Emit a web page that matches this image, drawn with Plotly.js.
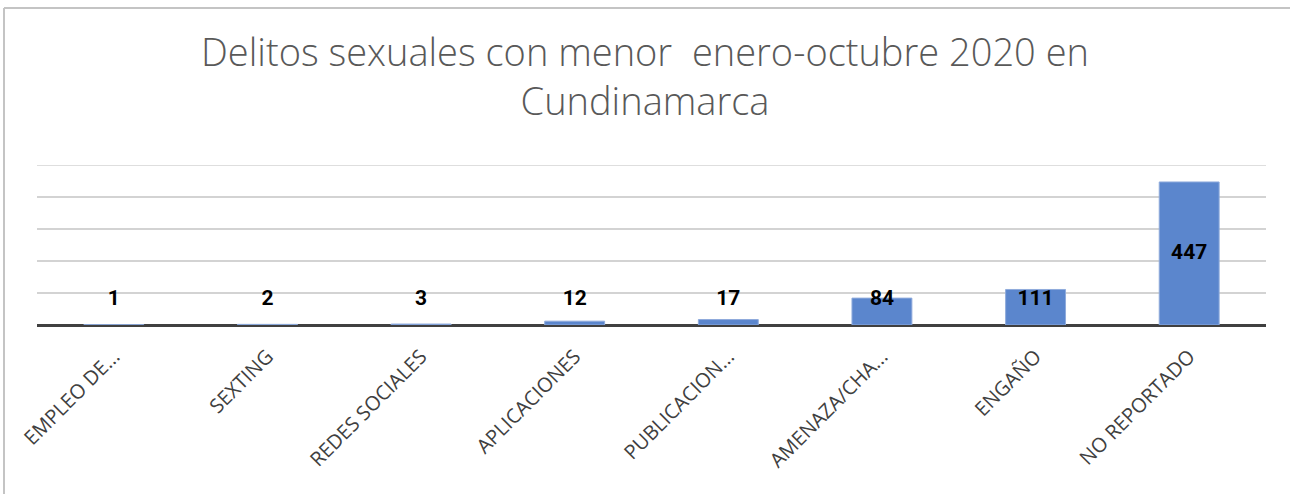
<!DOCTYPE html>
<html>
<head>
<meta charset="utf-8">
<script src="https://cdn.plot.ly/plotly-3.0.1.min.js"></script>
<style>html,body{margin:0;padding:0;background:#fff;}#chart{width:1290px;height:494px;}</style>
</head>
<body>
<div id="chart"></div>
<script>
const categories = ["EMPLEO DE...", "SEXTING", "REDES SOCIALES", "APLICACIONES", "PUBLICACION...", "AMENAZA/CHA...", "ENGAÑO", "NO REPORTADO"];
const values = [1, 2, 3, 12, 17, 84, 111, 447];
const labelText = values.map(String);
const minLabelY = 78;
const labelY = values.map(v => Math.max(v / 2, minLabelY));
const yMax = 500;

const W = 1290, H = 494;
const mL = 37, mR = 24, mT = 165, mB = 169;
const pw = W - mL - mR, ph = H - mT - mB;
const px = x => (x - mL) / pw;
const py = y => (H - mB - y) / ph;

const traces = [
  {
    type: 'bar', x: categories, y: values,
    marker: {color: '#5b86cd', line: {color: '#8fabdc', width: 1}},
    width: 0.39, hoverinfo: 'skip', showlegend: false
  },
  {
    type: 'scatter', mode: 'text', x: categories, y: labelY, text: labelText,
    textposition: 'middle center',
    textfont: {family: 'Roboto, sans-serif', size: 21, color: '#000', weight: 700},
    hoverinfo: 'skip', showlegend: false, cliponaxis: false
  }
];

const layout = {
  width: W, height: H,
  margin: {l: mL, r: mR, t: mT, b: mB, pad: 0},
  paper_bgcolor: '#fff', plot_bgcolor: '#fff',
  title: {
    text: 'Delitos sexuales con menor  enero-octubre 2020 en<br>Cundinamarca',
    font: {family: 'Open Sans, sans-serif', size: 38, color: '#595959', weight: 300},
    x: 0.5, xanchor: 'center', xref: 'container',
    y: 1 - 66 / H, yanchor: 'top', yref: 'container'
  },
  xaxis: {
    type: 'category', tickangle: -45,
    tickfont: {family: 'Open Sans, sans-serif', size: 20, color: '#404040'},
    ticklabelstandoff: 15, ticklabelshift: 0,
    showline: false, ticks: '', showgrid: false, zeroline: false,
    fixedrange: true
  },
  yaxis: {
    range: [0, yMax], dtick: 100, showticklabels: false,
    showgrid: true, gridcolor: '#d3d3d3', gridwidth: 1.5,
    zeroline: true, zerolinecolor: '#404040', zerolinewidth: 3,
    showline: false, ticks: '', fixedrange: true
  },
  shapes: [
    {type: 'line', xref: 'paper', yref: 'y', x0: 0, x1: 1, y0: yMax, y1: yMax, line: {color: '#d3d3d3', width: 1.5}, layer: 'below'},
    {type: 'line', xref: 'paper', yref: 'paper', x0: px(4), x1: px(1292), y0: py(8), y1: py(8), line: {color: '#c4c4c4', width: 2}},
    {type: 'line', xref: 'paper', yref: 'paper', x0: px(4), x1: px(4), y0: py(8), y1: py(496), line: {color: '#c4c4c4', width: 2}}
  ]
};

Plotly.newPlot('chart', traces, layout, {displayModeBar: false, staticPlot: true});
</script>
</body>
</html>
